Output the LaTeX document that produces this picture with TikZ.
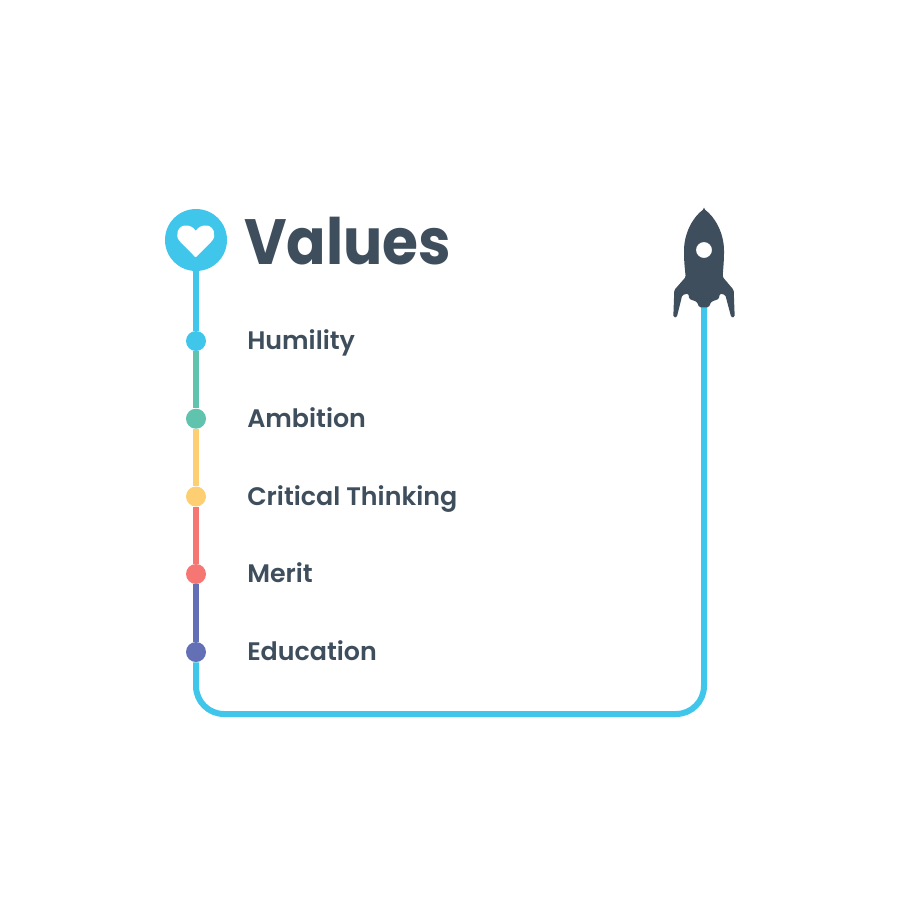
\documentclass[tikz,border=0pt]{standalone}
\usepackage{fontspec}
\setmainfont{Poppins}[UprightFont=* SemiBold,BoldFont=* Bold]
\newfontfamily\headingface{Poppins Bold}[FakeStretch=0.91]
\usetikzlibrary{backgrounds}
\definecolor{sky}{HTML}{40C6EA}
\definecolor{teal}{HTML}{5FC3AE}
\definecolor{sand}{HTML}{FDCF72}
\definecolor{coral}{HTML}{F57673}
\definecolor{indigo}{HTML}{6370B6}
\definecolor{slate}{HTML}{3E4E5C}
\tikzset{
  stop/.style={circle,inner sep=0pt,minimum size=15pt,fill=#1},
  track/.style={line width=4.5pt,draw=#1},
  label/.style={anchor=base west,inner sep=0pt,text=slate,font=\fontsize{19pt}{22pt}\selectfont},
  title/.style={anchor=base west,inner sep=0pt,text=slate,font=\headingface\fontsize{48pt}{52pt}\selectfont}
}
\begin{document}
\begin{tikzpicture}[x=0.75pt,y=-0.75pt]
\useasboundingbox (0,0) rectangle (900,900);
\begin{scope}[on background layer]
  \fill[white] (0,0) rectangle (900,900);
\end{scope}

% header badge with heart
\node[circle,inner sep=0pt,minimum size=46.5pt,fill=sky] (badge) at (196,240) {};
\fill[white,rounded corners=0.6pt] (195.7,257.5)
  -- (180,241.5)
  .. controls (174.5,235.5) and (178,225.5) .. (186,225.5)
  .. controls (190,225.5) and (193.5,227.5) .. (195.7,231)
  .. controls (198,227.5) and (201.5,225.5) .. (205.5,225.5)
  .. controls (213.5,225.5) and (217,235.5) .. (211.5,241.5)
  -- cycle;
\node[title] (heading) at (244,264.5) {Values};

% value stops along the track
\node[stop=sky]    (s1) at (196,341) {};
\node[stop=teal]   (s2) at (196,418.7) {};
\node[stop=sand]   (s3) at (196,496.5) {};
\node[stop=coral]  (s4) at (196,574) {};
\node[stop=indigo] (s5) at (196,652) {};
\node[label] (l1) at (247,349.5) {Humility};
\node[label] (l2) at (247,427) {Ambition};
\node[label] (l3) at (247,505) {Critical Thinking};
\node[label] (l4) at (247,582.5) {Merit};
\node[label] (l5) at (247,660.5) {Education};

% rocket
\fill[slate,rounded corners=1pt,even odd rule] (704,209)
  .. controls (693,217) and (684,233) .. (684,252)
  .. controls (684,262) and (685,270) .. (685.7,277)
  -- (674.3,290) -- (673.3,317) -- (676.7,317.5) -- (682.3,295) -- (688.3,293.5)
  -- (689.3,299) -- (696.7,301.7) -- (699.3,307.3) -- (708.7,307.3) -- (711.3,301.7)
  -- (718.7,299) -- (720,293.5) -- (725.3,295) -- (731.3,317.5) -- (734.7,317)
  -- (733.7,290) -- (722.7,277)
  .. controls (723,270) and (724,262) .. (724,252)
  .. controls (724,233) and (715,217) .. (704,209) -- cycle
  (712,250) arc[start angle=0,end angle=360,radius=8];
\coordinate (nozzle) at (704,307);
\coordinate (cornerL) at (196,714);
\coordinate (cornerR) at (704,714);

% coloured track between the stops, then the run up to the rocket
\begin{scope}[on background layer]
  \draw[track=sky] (badge) -- (s1);
  \draw[track=teal] (s1) -- (s2);
  \draw[track=sand] (s2) -- (s3);
  \draw[track=coral] (s3) -- (s4);
  \draw[track=indigo] (s4) -- (s5);
  \draw[track=sky,rounded corners=21pt] (s5.south) -- (cornerL) -- (cornerR) -- (nozzle);
\end{scope}
\end{tikzpicture}
\end{document}
